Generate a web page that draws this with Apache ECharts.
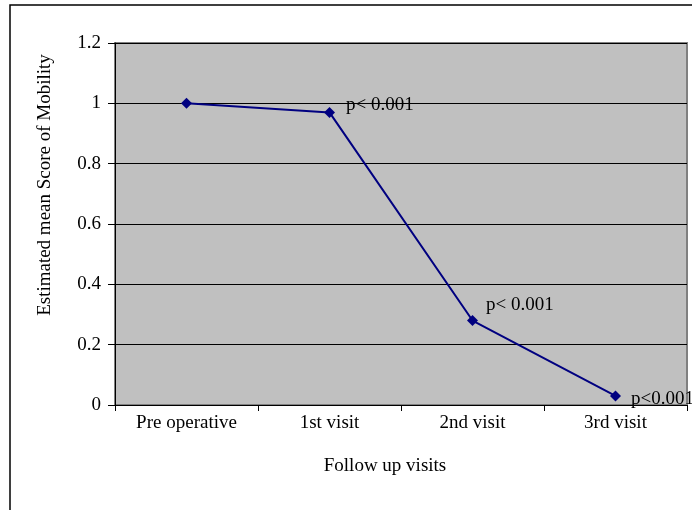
<!DOCTYPE html>
<html><head><meta charset="utf-8">
<script src="https://cdn.jsdelivr.net/npm/echarts@6/dist/echarts.min.js"></script>
<style>html,body{margin:0;padding:0;background:#fff}#c{width:692px;height:510px}</style>
</head><body><div id="c"></div>
<script>
const categories = ['Pre operative', '1st visit', '2nd visit', '3rd visit'];
const scores = [1.0, 0.97, 0.28, 0.03];
const pLabels = ['', 'p< 0.001', 'p< 0.001', 'p<0.001'];
const labelOffsets = [[0,0],[11,-7],[8,-16],[10,3]];
const yTicks = [0, 0.2, 0.4, 0.6, 0.8, 1, 1.2];
const yName = 'Estimated mean Score of Mobility';
const xName = 'Follow up visits';

const FONT = 'Liberation Serif';
const FS = 19;
const chart = echarts.init(document.getElementById('c'));
chart.setOption({
  backgroundColor: '#fff',
  animation: false,
  grid: { left: 115, right: 5, top: 43, bottom: 105, show: true, backgroundColor: '#C0C0C0', borderColor: '#808080', borderWidth: 2 },
  xAxis: {
    type: 'category', data: categories, boundaryGap: true,
    axisLine: { lineStyle: { color: '#000', width: 1 } },
    axisTick: { show: true, length: 6, lineStyle: { color: '#000' } },
    axisLabel: { color: '#000', fontFamily: FONT, fontSize: FS, margin: 9 }
  },
  yAxis: {
    type: 'value', min: 0, max: 1.2, interval: 0.2,
    axisLine: { show: true, lineStyle: { color: '#000', width: 1 } },
    axisTick: { show: true, length: 7, lineStyle: { color: '#000' } },
    axisLabel: { color: '#000', fontFamily: FONT, fontSize: FS, margin: 14,
      formatter: v => { const t = yTicks.find(x => Math.abs(x - v) < 1e-9); return String(t); } },
    splitLine: { show: true, lineStyle: { color: '#000', width: 1 } }
  },
  series: [{
    type: 'line',
    data: scores.map((v, i) => ({
      value: v,
      label: { show: pLabels[i] !== '', formatter: pLabels[i], position: 'right', distance: 0, offset: labelOffsets[i],
        color: '#000', fontFamily: FONT, fontSize: FS }
    })),
    symbol: 'diamond', symbolSize: 11,
    itemStyle: { color: '#000080' },
    lineStyle: { color: '#000080', width: 2 }
  }],
  graphic: [
    { type: 'rect', shape: { x: 10, y: 5, width: 720, height: 540 }, style: { fill: 'none', stroke: '#000', lineWidth: 1.5 }, z: 100, silent: true },
    { type: 'text', x: 45, y: 185, rotation: Math.PI / 2, style: { text: yName, fill: '#000', font: FS + 'px "Liberation Serif"', align: 'center', verticalAlign: 'middle' } },
    { type: 'text', x: 385, y: 466, style: { text: xName, fill: '#000', font: FS + 'px "Liberation Serif"', align: 'center', verticalAlign: 'middle' } }
  ]
});
</script></body></html>
